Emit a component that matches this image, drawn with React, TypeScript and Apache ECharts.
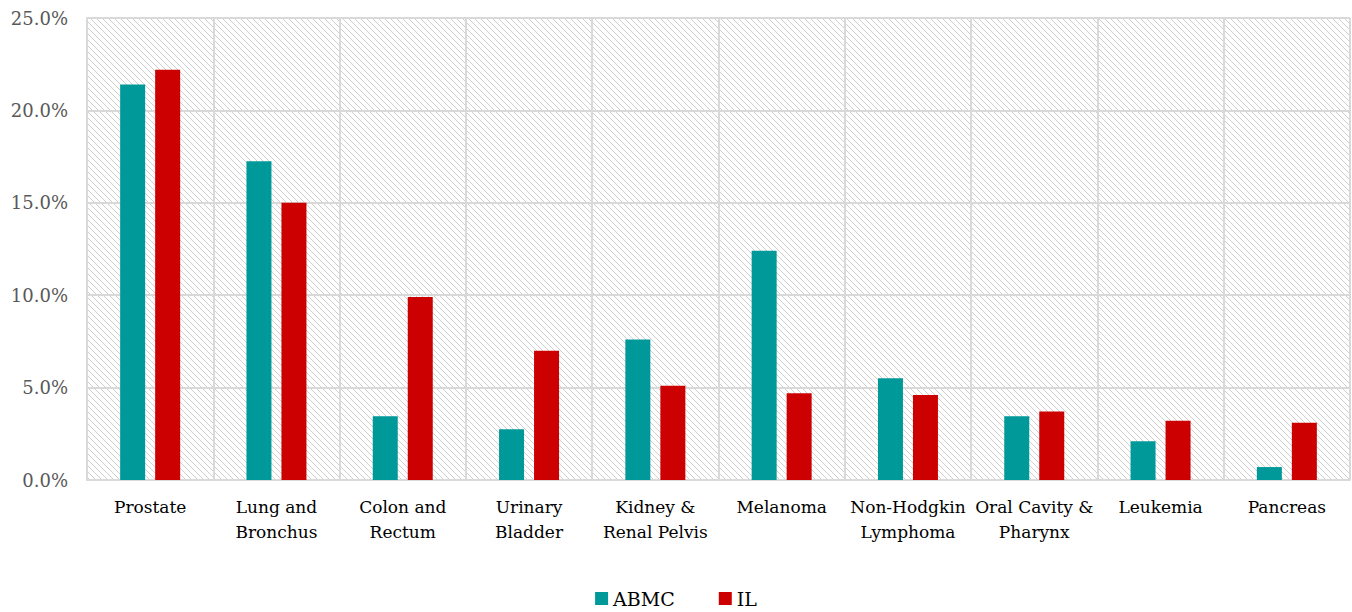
import React, { useEffect, useRef } from "react";
import * as echarts from "echarts";

const categories = [
  "Prostate",
  "Lung and\nBronchus",
  "Colon and\nRectum",
  "Urinary\nBladder",
  "Kidney &\nRenal Pelvis",
  "Melanoma",
  "Non-Hodgkin\nLymphoma",
  "Oral Cavity &\nPharynx",
  "Leukemia",
  "Pancreas",
];
const abmcValues = [21.4, 17.25, 3.45, 2.75, 7.6, 12.4, 5.5, 3.45, 2.1, 0.7];
const ilValues = [22.2, 15.0, 9.9, 7.0, 5.1, 4.7, 4.6, 3.7, 3.2, 3.1];
const seriesNames = ["ABMC", "IL"];
const colors = ["#009999", "#CC0000"];

const FONT = "DejaVu Serif";

function makeHatch(): string {
  const n = 6;
  const c = document.createElement("canvas");
  c.width = n;
  c.height = n;
  const ctx = c.getContext("2d")!;
  ctx.fillStyle = "#ffffff";
  ctx.fillRect(0, 0, n, n);
  ctx.fillStyle = "#cfcfcf";
  for (let i = 0; i < n; i++) {
    ctx.fillRect(i, i, 1, 1);
  }
  return c.toDataURL();
}

export default function App() {
  const ref = useRef<HTMLDivElement>(null);
  useEffect(() => {
    if (!ref.current) return;
    const chart = echarts.init(ref.current, undefined, { renderer: "svg" });
    const hatch = makeHatch();
    chart.setOption({
      animation: false,
      color: colors,
      textStyle: { fontFamily: FONT },
      grid: {
        left: 87,
        right: 2,
        top: 18,
        bottom: 132,
        show: true,
        borderWidth: 0,
        backgroundColor: { image: hatch, repeat: "repeat" } as any,
      },
      legend: {
        bottom: -1,
        left: "center",
        itemWidth: 13,
        itemHeight: 13,
        itemGap: 44,
        icon: "rect",
        textStyle: { fontFamily: FONT, fontSize: 19, color: "#000" },
        data: seriesNames,
      },
      xAxis: {
        type: "category",
        data: categories,
        axisLine: { show: true, lineStyle: { color: "#d9d9d9", width: 2 } },
        axisTick: { show: false },
        splitLine: { show: true, lineStyle: { color: "#d9d9d9", width: 2 } },
        axisLabel: {
          fontFamily: FONT,
          fontSize: 17,
          color: "#000",
          margin: 14,
          lineHeight: 25,
          interval: 0,
        },
      },
      yAxis: {
        type: "value",
        min: 0,
        max: 25,
        interval: 5,
        axisLine: { show: true, lineStyle: { color: "#d9d9d9", width: 2 } },
        axisTick: { show: false },
        splitLine: { show: true, lineStyle: { color: "#d9d9d9", width: 2 } },
        axisLabel: {
          fontFamily: FONT,
          fontSize: 18,
          color: "#595959",
          margin: 19,
          formatter: (v: number) => v.toFixed(1) + "%",
        },
      },
      series: [
        {
          name: seriesNames[0],
          type: "bar",
          data: abmcValues,
          barWidth: 25,
          barGap: "40%",
        },
        {
          name: seriesNames[1],
          type: "bar",
          data: ilValues,
          barWidth: 25,
          barGap: "40%",
        },
      ],
    });
    return () => chart.dispose();
  }, []);
  return (
    <div
      ref={ref}
      style={{ position: "fixed", left: 0, top: 0, width: 1352, height: 612, background: "#fff" }}
    />
  );
}
